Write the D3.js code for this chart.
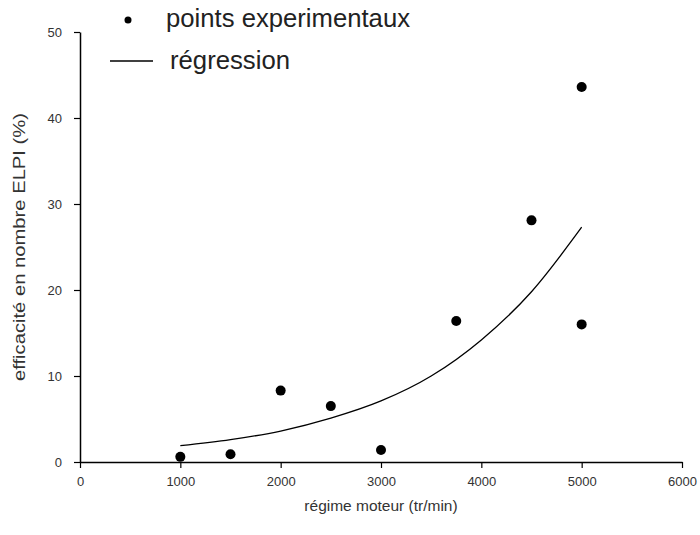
<!DOCTYPE html>
<html><head><meta charset="utf-8">
<script src="https://cdn.jsdelivr.net/npm/d3@7"></script>
<style>body{margin:0;background:#fff}svg{display:block}text{font-family:"Liberation Sans",Arial,sans-serif}</style>
</head><body>
<svg id="c" width="700" height="535"></svg>
<script>
const pointX = [1000, 1500, 2000, 2500, 3000, 3750, 4500, 5000, 5000];
const pointY = [0.6, 0.9, 8.3, 6.5, 1.4, 16.4, 28.1, 43.6, 16.0];
const regX = [1000, 1500, 2000, 2500, 3000, 3500, 4000, 4500, 5000];
const regY = [1.9, 2.6, 3.6, 5.1, 7.1, 10.0, 14.2, 19.8, 27.3];
const xTicks = [0, 1000, 2000, 3000, 4000, 5000, 6000];
const yTicks = [0, 10, 20, 30, 40, 50];
const legendLabels = ["points experimentaux", "régression"];
const xTitle = "régime moteur (tr/min)";
const yTitle = "efficacité en nombre ELPI (%)";

const svg = d3.select("#c");
const x = d3.scaleLinear().domain([0, 6000]).range([80, 682]);
const y = d3.scaleLinear().domain([0, 50]).range([462, 32]);

const tc = "#333";
const xa = svg.append("g").attr("transform", `translate(0,${y(0)})`)
  .call(d3.axisBottom(x).tickValues(xTicks).tickSize(6).tickPadding(9).tickSizeOuter(0).tickFormat(d3.format("d")));
const ya = svg.append("g").attr("transform", `translate(${x(0)},0)`)
  .call(d3.axisLeft(y).tickValues(yTicks).tickSize(6).tickPadding(12).tickSizeOuter(0).tickFormat(d3.format("d")));
[xa, ya].forEach(a => {
  a.select(".domain").attr("stroke", "#000").attr("stroke-width", 1.5);
  a.selectAll(".tick line").attr("stroke", "#000").attr("stroke-width", 1.2);
  a.selectAll(".tick text").attr("fill", tc).style("font-size", "13px");
});

svg.append("path")
  .datum(regX.map((d, i) => [d, regY[i]]))
  .attr("fill", "none").attr("stroke", "#000").attr("stroke-width", 1.3)
  .attr("d", d3.line().x(d => x(d[0])).y(d => y(d[1])).curve(d3.curveMonotoneX));

svg.append("g").selectAll("circle")
  .data(pointX.map((d, i) => [d, pointY[i]]))
  .join("circle")
  .attr("cx", d => x(d[0])).attr("cy", d => y(d[1])).attr("r", 5).attr("fill", "#000");

svg.append("text").attr("x", x(3000)).attr("y", 511).attr("text-anchor", "middle")
  .attr("fill", tc).style("font-size", "15.5px").text(xTitle);
svg.append("text").attr("transform", `translate(25,${(y(0)+y(50))/2}) rotate(-90)`)
  .attr("text-anchor", "middle").attr("fill", tc).style("font-size", "16.5px")
  .attr("textLength", 268).attr("lengthAdjust", "spacingAndGlyphs").text(yTitle);

// legend
svg.append("circle").attr("cx", 128).attr("cy", 20).attr("r", 3.5).attr("fill", "#000");
svg.append("text").attr("x", 166).attr("y", 27).attr("fill", "#222").style("font-size", "25px")
  .attr("textLength", 244).attr("lengthAdjust", "spacingAndGlyphs").text(legendLabels[0]);
svg.append("line").attr("x1", 110).attr("x2", 153).attr("y1", 61).attr("y2", 61).attr("stroke", "#000").attr("stroke-width", 1.3);
svg.append("text").attr("x", 170).attr("y", 69).attr("fill", "#222").style("font-size", "25px")
  .attr("textLength", 120).attr("lengthAdjust", "spacingAndGlyphs").text(legendLabels[1]);
</script>
</body></html>
